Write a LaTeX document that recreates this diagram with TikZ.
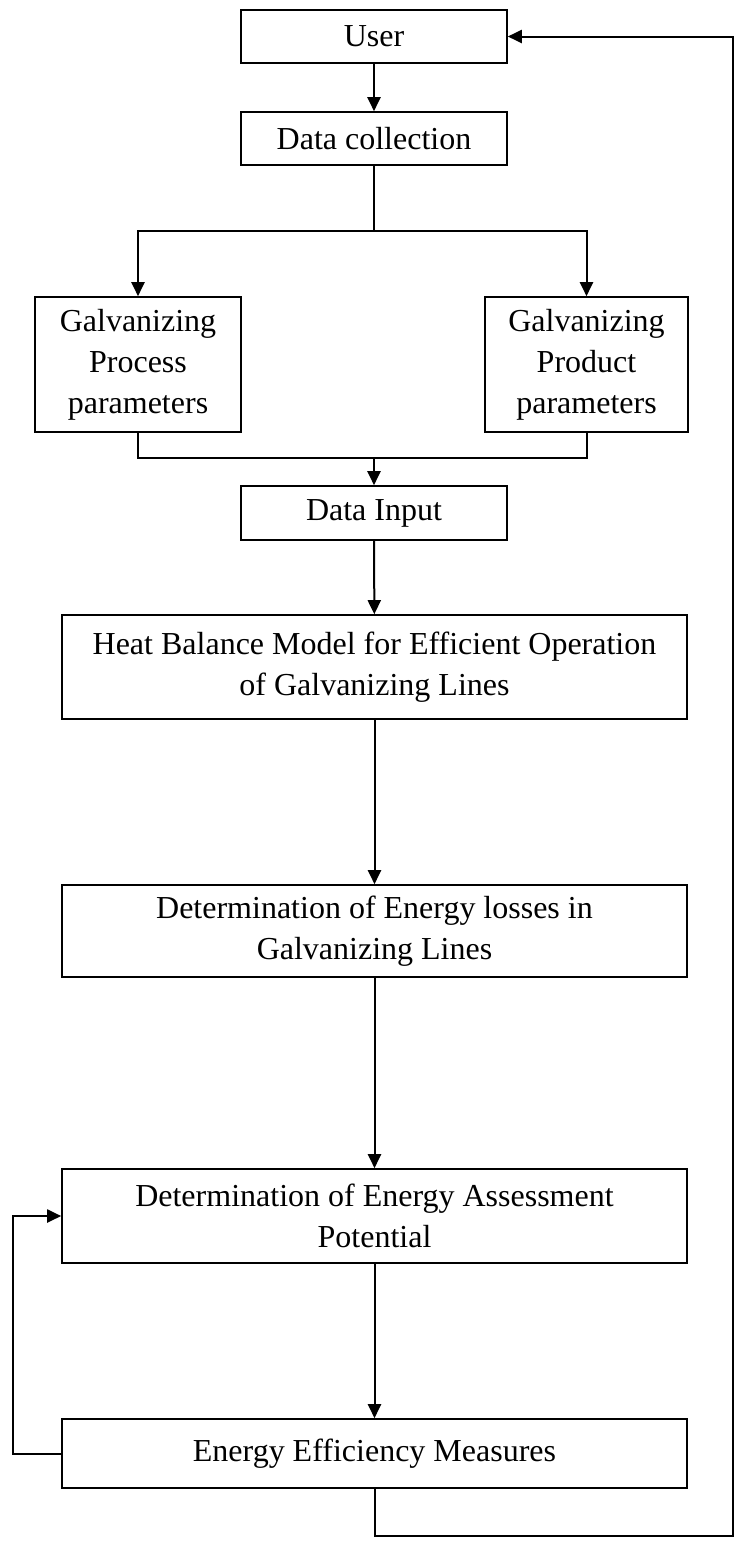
\documentclass[tikz,border=0pt]{standalone}
\usepackage{fontspec}
\setmainfont{Liberation Serif}
\usetikzlibrary{arrows.meta,positioning,calc}

\begin{document}
\begin{tikzpicture}[x=0.5pt,y=-0.5pt,
    box/.style={draw,line width=0.8pt,align=center,inner sep=0pt,
      font=\fontsize{16}{20.5}\selectfont},
    flow/.style={line width=1pt,-{Triangle[length=7pt,width=6.5pt]}},
    link/.style={line width=1pt}]
  \useasboundingbox (0,0) rectangle (735,1543);
  \node[box,minimum width=133pt,minimum height=26.5pt] (user) at (374,36.5) {User};
  \node[box,minimum width=133pt,minimum height=26.5pt] (collect) at (374,138.5) {Data collection};
  \node[box,minimum width=103pt,minimum height=67.5pt] (process) at (138,364.5) {Galvanizing\\Process\\parameters};
  \node[box,minimum width=101.5pt,minimum height=67.5pt] (product) at (586.5,364.5) {Galvanizing\\Product\\parameters};
  \node[box,minimum width=133pt,minimum height=27pt] (input) at (374,513) {Data Input};
  \node[box,minimum width=312.5pt,minimum height=52pt] (heat) at (374.5,667) {Heat Balance Model for Efficient Operation\\of Galvanizing Lines};
  \node[box,minimum width=312.5pt,minimum height=46pt] (losses) at (374.5,931) {Determination of Energy losses in\\Galvanizing Lines};
  \node[box,minimum width=312.5pt,minimum height=47pt] (assess) at (374.5,1216) {Determination of Energy Assessment\\Potential};
  \node[box,minimum width=312.5pt,minimum height=34.5pt] (measures) at (374.5,1453.5) {Energy Efficiency Measures};
  \coordinate (split) at (374,231);
  \coordinate (merge) at (374,458);
  \coordinate (back) at (733,1536);
  \draw[flow] (user) -- (collect);
  \draw[link] (collect.south) -- (split);
  \draw[flow] (split) -| (process.north);
  \draw[flow] (split) -| (product.north);
  \draw[link] (process.south) |- (merge) -| (product.south);
  \draw[flow] (merge) -- (input.north);
  \draw[flow] (input) -- (heat);
  \draw[flow] (heat) -- (losses);
  \draw[flow] (losses) -- (assess);
  \draw[flow] (assess) -- (measures);
  \draw[flow] (measures.west) -- ++(-48,0) |- (assess.west);
  \draw[flow] (measures.south) |- (back) |- (user.east);
\end{tikzpicture}
\end{document}
